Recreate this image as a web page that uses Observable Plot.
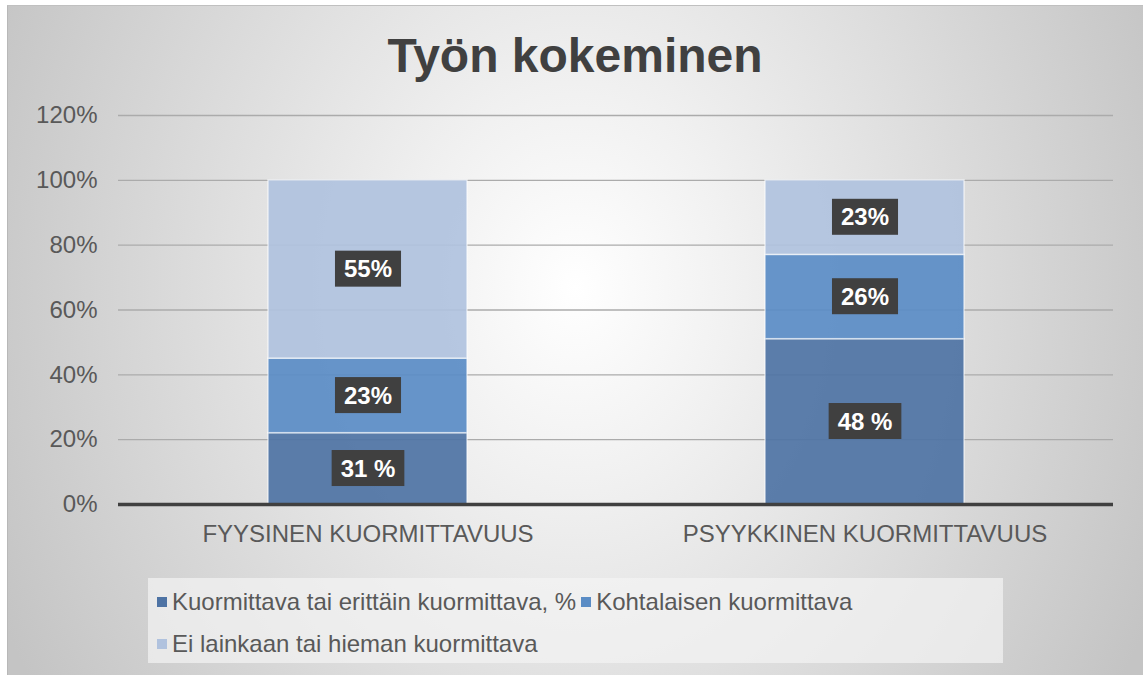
<!DOCTYPE html>
<html>
<head>
<meta charset="utf-8">
<script src="https://cdn.jsdelivr.net/npm/d3@7"></script>
<script src="https://cdn.jsdelivr.net/npm/@observablehq/plot@0.6"></script>
<style>
  html, body { margin: 0; padding: 0; background: #ffffff; }
  body { width: 1143px; height: 675px; position: relative; overflow: hidden;
         font-family: "Liberation Sans", Arial, sans-serif; }
  #bg { position: absolute; left: 7px; top: 5px; width: 1136px; height: 670px;
        background: radial-gradient(ellipse 56% 115% at 50% 42%, #ffffff 0%, #f1f1f1 25%, #c4c4c4 100%);
        border-left: 1px solid #b8b8b8; border-top: 1px solid #c0c0c0; box-sizing: border-box; }
  #title { position: absolute; left: 7px; width: 1136px; top: 32px; text-align: center;
           font-size: 48px; line-height: 47px; font-weight: bold; color: #404040; }
  #plot { position: absolute; left: 0; top: 95px; }
  #legend { position: absolute; left: 148px; top: 578px; width: 855px; height: 85px;
            box-sizing: border-box; padding: 3px 0 0 9px; background: rgba(244,244,244,0.7);
            display: flex; flex-wrap: wrap; align-content: flex-start; }
  .item { display: flex; align-items: center; height: 42px; margin-right: 5px;
          font-size: 24px; color: #595959; white-space: nowrap; }
  .sw { width: 10px; height: 10px; margin-right: 5px; }
</style>
</head>
<body>
<div id="bg"></div>
<div id="title">Työn kokeminen</div>
<div id="plot"></div>
<div id="legend"></div>
<script>
// ---- data ----
const categories = ["FYYSINEN KUORMITTAVUUS", "PSYYKKINEN KUORMITTAVUUS"];
const seriesNames = ["Kuormittava tai erittäin kuormittava, %", "Kohtalaisen kuormittava", "Ei lainkaan tai hieman kuormittava"];
const heavyValues = [22, 51];
const moderateValues = [23, 26];
const lightValues = [55, 23];
const heavyLabels = ["31 %", "48 %"];
const moderateLabels = ["23%", "26%"];
const lightLabels = ["55%", "23%"];
const yTicks = [0, 20, 40, 60, 80, 100, 120];
const seriesColors = ["#4e73a4", "#5a8cc5", "#b0c2de"];

const data = [];
const valueSets = [heavyValues, moderateValues, lightValues];
const labelSets = [heavyLabels, moderateLabels, lightLabels];
seriesNames.forEach((s, si) => {
  categories.forEach((c, ci) => {
    data.push({category: c, series: s, value: valueSets[si][ci], label: labelSets[si][ci]});
  });
});

const chart = Plot.plot({
  width: 1143,
  height: 465,
  marginTop: 20,
  marginBottom: 56,
  marginLeft: 118,
  marginRight: 30,
  style: {background: "transparent", fontFamily: "'Liberation Sans', Arial, sans-serif", fontSize: "24px", color: "#595959"},
  x: {domain: categories, paddingInner: 0.6, paddingOuter: 0.3, tickSize: 0, tickPadding: 20, label: null},
  y: {domain: [0, 120], ticks: yTicks, tickFormat: d => d + "%", tickSize: 0, tickPadding: 21, label: null},
  color: {domain: seriesNames, range: seriesColors},
  marks: [
    Plot.ruleY(yTicks.filter(d => d > 0), {stroke: "#ababab", strokeWidth: 1.4}),
    Plot.barY(data, {x: "category", y: "value", fill: "series", order: seriesNames, fillOpacity: 0.92,
                     stroke: "#ffffff", strokeOpacity: 0.6, strokeWidth: 1.5}),
    Plot.ruleY([0], {stroke: "#404040", strokeWidth: 3.5}),
    Plot.text(data, Plot.stackY({x: "category", y: "value", z: "series", order: seriesNames, text: "label",
                     fill: "white", fontWeight: "bold", fontSize: 24}))
  ]
});
document.getElementById("plot").appendChild(chart);

// dark boxes behind the value labels
const textGroup = chart.querySelector('g[aria-label="text"]');
if (textGroup) {
  textGroup.querySelectorAll("text").forEach(t => {
    const b = t.getBBox();
    const padX = 9, h = 36;
    const cy = b.y + b.height / 2;
    const r = document.createElementNS("http://www.w3.org/2000/svg", "rect");
    r.setAttribute("x", b.x - padX);
    r.setAttribute("y", cy - h / 2);
    r.setAttribute("width", b.width + 2 * padX);
    r.setAttribute("height", h);
    r.setAttribute("fill", "#404040");
    const tr = t.getAttribute("transform");
    if (tr) r.setAttribute("transform", tr);
    textGroup.insertBefore(r, t);
  });
}

// legend
const legend = document.getElementById("legend");
seriesNames.forEach((s, i) => {
  const it = document.createElement("div");
  it.className = "item";
  const sw = document.createElement("span");
  sw.className = "sw";
  sw.style.background = seriesColors[i];
  const tx = document.createElement("span");
  tx.textContent = s;
  it.appendChild(sw); it.appendChild(tx);
  legend.appendChild(it);
});
</script>
</body>
</html>
